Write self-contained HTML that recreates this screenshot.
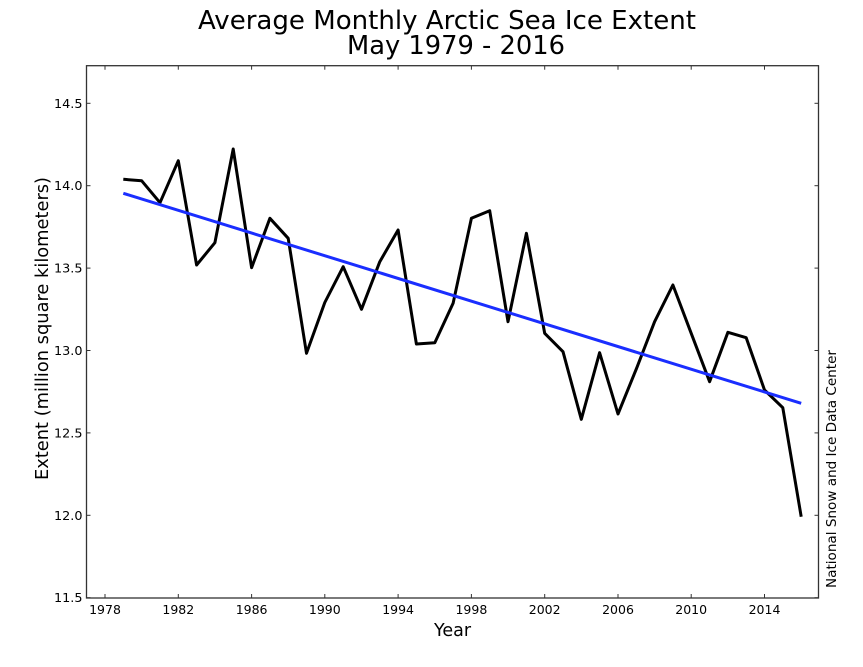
<!DOCTYPE html>
<html>
<head>
<meta charset="utf-8">
<style>
  html, body { margin: 0; padding: 0; background: #ffffff; }
  svg { display: block; }
  text { font-family: "DejaVu Sans", "Liberation Sans", sans-serif; fill: #000; }
</style>
</head>
<body>
<svg width="863" height="667" viewBox="0 0 863 667" xmlns="http://www.w3.org/2000/svg">
  <rect x="0" y="0" width="863" height="667" fill="#ffffff"/>

  <!-- Title -->
  <text x="198" y="29" font-size="25.5" textLength="498" lengthAdjust="spacingAndGlyphs">Average Monthly Arctic Sea Ice Extent</text>
  <text x="347" y="54" font-size="25.5" textLength="218" lengthAdjust="spacingAndGlyphs">May 1979 - 2016</text>

  <!-- Data series -->
  <polyline fill="none" stroke="#000000" stroke-width="3" stroke-linejoin="round" stroke-linecap="butt"
    points="123.3,179.3 141.6,180.7 160.0,202.7 178.3,160.7 196.6,265.0 214.9,242.7 233.2,149.0 251.6,267.7 269.9,218.3 288.2,238.3 306.5,353.3 324.8,302.5 343.2,266.7 361.5,309.3 379.8,261.7 398.1,230.0 416.4,344.0 434.8,342.7 453.1,303.3 471.4,218.3 489.7,210.7 508.0,321.7 526.4,233.3 544.7,333.3 563.0,351.7 581.3,419.3 599.6,352.7 618.0,414.0 636.3,369.0 654.6,321.7 672.9,285.0 691.2,333.3 709.6,381.7 727.9,332.3 746.2,337.7 764.5,390.0 782.8,407.7 801.2,516.7"/>

  <!-- Trend line -->
  <line x1="123.3" y1="193.3" x2="801.2" y2="403.3" stroke="#1a2eff" stroke-width="3"/>

  <!-- Axes frame -->
  <rect x="86.5" y="65.7" width="732" height="532.3" fill="none" stroke="#333" stroke-width="1.3"/>

  <!-- X ticks (bottom & top, inward) -->
  <g stroke="#333" stroke-width="1">
    <line x1="105.0" y1="598" x2="105.0" y2="594"/><line x1="105.0" y1="65.7" x2="105.0" y2="69.7"/>
    <line x1="178.3" y1="598" x2="178.3" y2="594"/><line x1="178.3" y1="65.7" x2="178.3" y2="69.7"/>
    <line x1="251.6" y1="598" x2="251.6" y2="594"/><line x1="251.6" y1="65.7" x2="251.6" y2="69.7"/>
    <line x1="324.8" y1="598" x2="324.8" y2="594"/><line x1="324.8" y1="65.7" x2="324.8" y2="69.7"/>
    <line x1="398.1" y1="598" x2="398.1" y2="594"/><line x1="398.1" y1="65.7" x2="398.1" y2="69.7"/>
    <line x1="471.4" y1="598" x2="471.4" y2="594"/><line x1="471.4" y1="65.7" x2="471.4" y2="69.7"/>
    <line x1="544.7" y1="598" x2="544.7" y2="594"/><line x1="544.7" y1="65.7" x2="544.7" y2="69.7"/>
    <line x1="618.0" y1="598" x2="618.0" y2="594"/><line x1="618.0" y1="65.7" x2="618.0" y2="69.7"/>
    <line x1="691.2" y1="598" x2="691.2" y2="594"/><line x1="691.2" y1="65.7" x2="691.2" y2="69.7"/>
    <line x1="764.5" y1="598" x2="764.5" y2="594"/><line x1="764.5" y1="65.7" x2="764.5" y2="69.7"/>
  </g>

  <!-- Y ticks (left & right, inward) -->
  <g stroke="#333" stroke-width="1">
    <line x1="86.5" y1="103.3" x2="90.5" y2="103.3"/><line x1="818.5" y1="103.3" x2="814.5" y2="103.3"/>
    <line x1="86.5" y1="185.7" x2="90.5" y2="185.7"/><line x1="818.5" y1="185.7" x2="814.5" y2="185.7"/>
    <line x1="86.5" y1="268.1" x2="90.5" y2="268.1"/><line x1="818.5" y1="268.1" x2="814.5" y2="268.1"/>
    <line x1="86.5" y1="350.5" x2="90.5" y2="350.5"/><line x1="818.5" y1="350.5" x2="814.5" y2="350.5"/>
    <line x1="86.5" y1="432.9" x2="90.5" y2="432.9"/><line x1="818.5" y1="432.9" x2="814.5" y2="432.9"/>
    <line x1="86.5" y1="515.3" x2="90.5" y2="515.3"/><line x1="818.5" y1="515.3" x2="814.5" y2="515.3"/>
    <line x1="86.5" y1="597.7" x2="90.5" y2="597.7"/><line x1="818.5" y1="597.7" x2="814.5" y2="597.7"/>
  </g>

  <!-- X tick labels -->
  <g font-size="12.5" text-anchor="middle" fill="#222">
    <text x="105.0" y="614">1978</text>
    <text x="178.3" y="614">1982</text>
    <text x="251.6" y="614">1986</text>
    <text x="324.8" y="614">1990</text>
    <text x="398.1" y="614">1994</text>
    <text x="471.4" y="614">1998</text>
    <text x="544.7" y="614">2002</text>
    <text x="618.0" y="614">2006</text>
    <text x="691.2" y="614">2010</text>
    <text x="764.5" y="614">2014</text>
  </g>

  <!-- Y tick labels -->
  <g font-size="12.8" text-anchor="end" fill="#222">
    <text x="82.5" y="107.8">14.5</text>
    <text x="82.5" y="190.2">14.0</text>
    <text x="82.5" y="272.6">13.5</text>
    <text x="82.5" y="355.0">13.0</text>
    <text x="82.5" y="437.4">12.5</text>
    <text x="82.5" y="519.8">12.0</text>
    <text x="82.5" y="602.2">11.5</text>
  </g>

  <!-- Axis labels -->
  <text x="452.5" y="636" font-size="17.5" text-anchor="middle">Year</text>
  <text transform="translate(48,328.5) rotate(-90)" x="0" y="0" font-size="17.5" text-anchor="middle" textLength="303" lengthAdjust="spacingAndGlyphs">Extent (million square kilometers)</text>

  <!-- Source credit -->
  <text transform="translate(836,469) rotate(-90)" x="0" y="0" font-size="13.5" text-anchor="middle" textLength="238" lengthAdjust="spacingAndGlyphs" fill="#111">National Snow and Ice Data Center</text>
</svg>
</body>
</html>
